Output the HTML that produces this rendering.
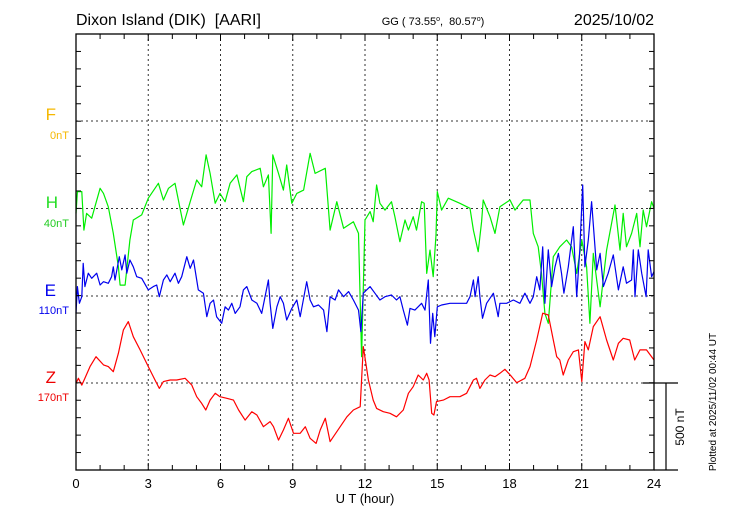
<!DOCTYPE html>
<html><head><meta charset="utf-8"><style>
body{margin:0;background:#fff}
svg{display:block;font-family:"Liberation Sans",sans-serif}
text{white-space:pre}
</style></head><body>
<svg id="chart" width="730" height="520" viewBox="0 0 730 520" xmlns="http://www.w3.org/2000/svg">
<text x="76" y="25" font-size="16" xml:space="preserve">Dixon Island (DIK)  [AARI]</text>
<text x="433" y="25" font-size="11" text-anchor="middle" xml:space="preserve">GG ( 73.55<tspan dy="-4" font-size="7">o</tspan><tspan dy="4">,  80.57</tspan><tspan dy="-4" font-size="7">o</tspan><tspan dy="4">)</tspan></text>
<text x="654" y="25" font-size="16" text-anchor="end">2025/10/02</text>
<g id="grid"></g>
<g id="series"></g>
<g id="axes"></g>
<text x="56" y="120" font-size="17" fill="#f5b800" text-anchor="end">F</text>
<text x="69" y="139" font-size="11" fill="#f5b800" text-anchor="end">0nT</text>
<text x="58" y="208" font-size="17" fill="#22dd22" text-anchor="end">H</text>
<text x="69" y="227" font-size="11" fill="#22cc22" text-anchor="end">40nT</text>
<text x="56" y="296" font-size="17" fill="#0000ee" text-anchor="end">E</text>
<text x="69" y="314" font-size="11" fill="#0000ee" text-anchor="end">110nT</text>
<text x="56" y="383" font-size="17" fill="#ee0000" text-anchor="end">Z</text>
<text x="69" y="401" font-size="11" fill="#ee0000" text-anchor="end">170nT</text>
<text x="365" y="503" font-size="13" text-anchor="middle">U T (hour)</text>
<text transform="translate(684,427) rotate(-90)" font-size="12" text-anchor="middle">500 nT</text>
<text transform="translate(716,402) rotate(-90)" font-size="10" text-anchor="middle">Plotted at 2025/11/02 00:44 UT</text>
</svg>
<script>
const hTimes=[0,.06,.24,.33,.44,.65,1.0,1.14,1.34,1.55,1.76,1.83,2.04,2.24,2.38,2.73,3.0,3.42,3.63,3.84,4.11,4.46,4.74,5.01,5.22,5.40,5.57,5.78,5.98,6.19,6.40,6.68,6.95,7.09,7.30,7.65,7.78,7.99,8.10,8.17,8.41,8.61,8.75,8.96,9.17,9.45,9.72,9.93,10.35,10.55,10.83,11.11,11.52,11.73,11.86,12.0,12.21,12.34,12.48,12.62,12.83,13.10,13.24,13.45,13.66,13.80,14.0,14.14,14.35,14.46,14.56,14.70,14.83,14.95,15.0,15.18,15.46,15.94,16.36,16.50,16.70,16.84,16.91,17.19,17.40,17.60,18.02,18.23,18.57,18.85,18.99,19.19,19.33,19.47,19.61,19.82,20.09,20.37,20.58,20.79,21.0,21.20,21.34,21.48,21.76,22.03,22.38,22.59,22.72,22.86,23.07,23.28,23.42,23.55,23.69,23.90,24.0];
const hValues=[-28,97,97,-124,-28,-56,116,87,10,-143,-335,-440,-440,-181,-66,-37,59,145,49,116,145,-95,39,164,125,308,202,30,87,39,145,193,39,183,212,231,125,193,-143,308,202,106,250,30,87,106,317,202,231,-124,39,-114,-76,-143,-852,-66,-18,-76,135,30,-9,39,-47,-191,-66,-124,-47,-124,39,30,-373,-239,-392,-152,97,-9,59,30,1,-124,-248,-76,49,-47,-143,10,49,-9,49,49,-143,-220,-373,-603,-660,-277,-220,-181,-220,-373,-181,-335,-660,-258,-565,-239,20,-239,-28,-220,-143,-28,-220,-9,-105,39,1];
const eTimes=[0,.06,.14,.24,.30,.37,.51,.65,.86,1.0,1.14,1.34,1.48,1.55,1.62,1.80,1.90,2.04,2.11,2.24,2.38,2.52,2.73,3.0,3.21,3.35,3.46,3.63,3.77,3.91,4.11,4.25,4.39,4.60,4.74,4.88,5.08,5.29,5.43,5.57,5.71,5.84,6.05,6.19,6.33,6.47,6.61,6.81,6.95,7.09,7.30,7.51,7.71,7.99,8.06,8.17,8.34,8.48,8.61,8.75,8.96,9.17,9.31,9.58,9.72,9.86,10.07,10.28,10.42,10.55,10.76,10.90,11.11,11.32,11.52,11.73,11.83,11.93,12.21,12.41,12.62,12.83,13.10,13.31,13.45,13.59,13.76,13.87,14.07,14.35,14.49,14.63,14.72,14.81,14.90,15.0,15.18,15.53,15.94,16.22,16.36,16.50,16.57,16.70,16.77,16.88,17.05,17.33,17.53,17.60,17.88,18.16,18.43,18.64,18.85,18.99,19.13,19.26,19.38,19.47,19.61,19.75,19.89,20.03,20.16,20.26,20.44,20.65,20.79,20.92,21.04,21.13,21.27,21.41,21.62,21.76,21.9,22.10,22.31,22.52,22.72,22.86,23.07,23.14,23.21,23.35,23.49,23.67,23.76,23.9,24.0];
const eValues=[-100,54,-42,-4,188,54,131,102,131,63,82,73,111,168,92,226,150,236,131,207,168,111,102,35,54,63,-4,92,121,82,131,73,111,226,159,207,35,16,-119,-42,-23,-119,-157,-62,-81,-42,-100,-62,35,54,-23,-42,-100,92,-42,-186,-62,-4,-42,-138,-71,-23,-119,82,-23,-62,-52,-81,-205,-4,-23,35,-4,25,-23,-81,-205,16,54,16,-23,-4,6,-23,-4,-81,-167,-71,-81,-42,-81,92,-272,-100,-234,-62,-52,-42,-42,-42,-4,92,-4,111,-4,-128,-42,16,-119,-42,-42,-23,-42,16,-42,-4,111,35,283,-42,265,54,168,245,131,16,168,398,-4,265,638,168,322,542,150,245,54,131,236,35,168,73,92,265,-4,265,131,-4,265,111,140];
const zTimes=[0,.10,.24,.37,.58,.83,1.14,1.34,1.55,1.76,1.97,2.17,2.38,2.66,3.0,3.28,3.46,3.63,3.91,4.18,4.53,4.81,5.01,5.22,5.39,5.57,5.78,5.98,6.26,6.54,6.75,7.02,7.30,7.51,7.78,8.06,8.20,8.41,8.61,8.82,9.03,9.31,9.52,9.72,9.97,10.14,10.35,10.55,10.83,11.25,11.52,11.80,11.93,12.14,12.34,12.48,12.76,13.04,13.31,13.59,13.80,14.0,14.21,14.42,14.56,14.66,14.77,14.86,14.97,15.25,15.53,15.94,16.22,16.50,16.63,16.77,16.98,17.19,17.40,17.60,17.81,18.09,18.30,18.64,18.85,19.13,19.38,19.61,19.82,19.96,20.09,20.23,20.44,20.65,20.86,21.0,21.13,21.27,21.48,21.76,22.03,22.31,22.52,22.72,22.99,23.2,23.42,23.69,24.0];
const zValues=[-2,27,-12,27,94,151,104,94,65,171,305,353,266,190,94,17,-31,8,17,17,27,-12,-79,-117,-155,-98,-59,-79,-88,-98,-155,-213,-165,-184,-251,-222,-251,-328,-270,-203,-289,-289,-251,-318,-347,-270,-203,-337,-280,-194,-155,-136,209,17,-98,-146,-165,-174,-194,-155,-59,-21,46,17,56,17,-174,-184,-107,-98,-79,-79,-59,17,27,-31,17,46,36,56,79,36,2,27,94,247,401,391,247,151,132,46,132,180,190,8,238,190,324,381,247,132,228,257,247,132,190,190,132];
const xTicks=[0,3,6,9,12,15,18,21,24];

const NS='http://www.w3.org/2000/svg';
const X0=76,X1=654,Y0=34,Y1=470;
const NT_PER_PX=500/87;
function xs(t){return X0+t*(X1-X0)/24;}
function ys(v,base){return base-v/NT_PER_PX;}
function mk(tag,attrs,parent){const e=document.createElementNS(NS,tag);for(const k in attrs)e.setAttribute(k,attrs[k]);parent.appendChild(e);return e;}
const grid=document.getElementById('grid'),axes=document.getElementById('axes'),ser=document.getElementById('series');
[121,208.5,296,383].forEach((y,i)=>{
  const l=mk('line',{x1:X0,x2:X1,y1:y,y2:y,stroke:'#333','stroke-width':1,'stroke-dasharray':'2,3'},grid);
  
  
});
xTicks.forEach(h=>{
  if(h>0&&h<24){
    const l=mk('line',{x1:xs(h),x2:xs(h),y1:Y0,y2:Y1,stroke:'#333','stroke-width':1,'stroke-dasharray':'2,3'},grid);
    
    
  }
  const t=mk('text',{x:xs(h),y:488,'font-size':13,'text-anchor':'middle'},axes);
  t.textContent=h;
  
  
});
const fr=mk('rect',{x:X0,y:Y0,width:X1-X0,height:Y1-Y0,fill:'none',stroke:'#000','stroke-width':1.3},axes);


for(let h=1;h<24;h++){
  const len=(h%3===0)?7:5;
  mk('line',{x1:xs(h),x2:xs(h),y1:Y0,y2:Y0+len,stroke:'#000'},axes);
  mk('line',{x1:xs(h),x2:xs(h),y1:Y1,y2:Y1-len,stroke:'#000'},axes);
}
for(let i=1;i<25;i++){
  const y=Y0+i*(Y1-Y0)/25;
  mk('line',{x1:X0,x2:X0+5,y1:y,y2:y,stroke:'#000'},axes);
  mk('line',{x1:X1,x2:X1-5,y1:y,y2:y,stroke:'#000'},axes);
}
const sb=mk('path',{d:'M643 383H678M654 470H678M666 383V470',stroke:'#000','stroke-width':1.2,fill:'none'},axes);


function draw(times,vals,base,color,name){
  let d='';
  times.forEach((t,i)=>{d+=(i?'L':'M')+xs(t).toFixed(1)+' '+ys(vals[i],base).toFixed(1);});
  const p=mk('path',{d:d,fill:'none',stroke:color,'stroke-width':1.2,'stroke-linejoin':'round'},ser);
  
  
}
draw(hTimes,hValues,208.5,'#00ee00','h-component-line');
draw(zTimes,zValues,383,'#ff0000','z-component-line');
draw(eTimes,eValues,296,'#0000ee','e-component-line');
</script>
</body></html>
